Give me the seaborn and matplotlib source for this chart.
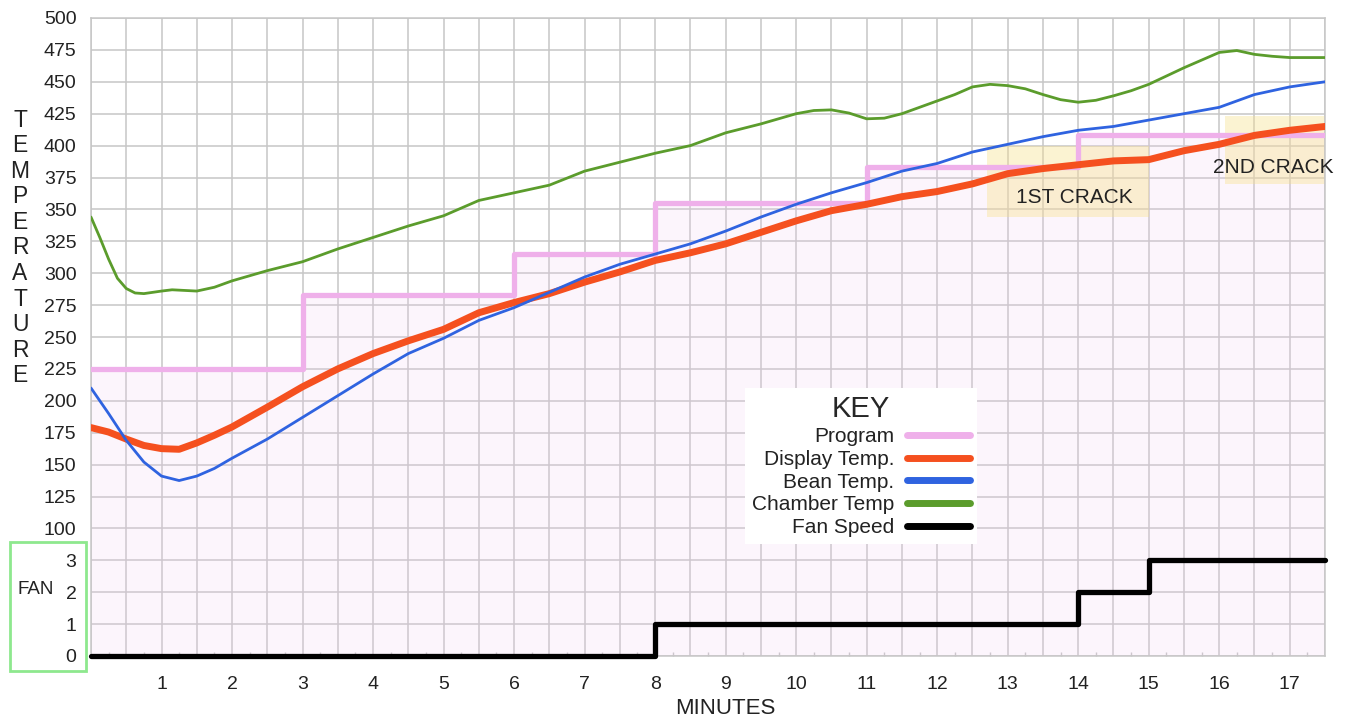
import matplotlib
matplotlib.use("Agg")
import matplotlib.pyplot as plt
from matplotlib.patches import Rectangle
from matplotlib.ticker import FixedLocator
import numpy as np
import seaborn as sns

# ─────────────────────────────────────────────
# DATA (read off the roast log)
# ─────────────────────────────────────────────

PROGRAM_MIN = [0, 3, 6, 8, 11, 14, 17.5]
PROGRAM_TEMP = [225, 283, 315, 355, 383, 408, 408]

DISPLAY_MIN = [0, 0.25, 0.5, 0.75, 1.0, 1.25, 1.5, 1.75, 2.0, 2.5, 3.0, 3.5,
               4.0, 4.5, 5.0, 5.5, 6.0, 6.5, 7.0, 7.5, 8.0, 8.5, 9.0, 9.5,
               10.0, 10.5, 11.0, 11.5, 12.0, 12.5, 13.0, 13.5, 14.0, 14.5,
               15.0, 15.5, 16.0, 16.5, 17.0, 17.5]
DISPLAY_TEMP = [179, 175.5, 170, 165, 162.5, 162, 167, 173, 179.5, 195, 211, 225,
                237, 247, 256, 269, 277, 284, 293, 301, 310, 316, 323, 332,
                341, 349, 354, 360, 364, 370, 378, 382, 385, 388,
                389, 396, 401, 408, 412, 415]

BEAN_MIN = [0, 0.25, 0.5, 0.75, 1.0, 1.25, 1.5, 1.75, 2.0, 2.5, 3.0, 3.5, 4.0,
            4.5, 5.0, 5.5, 6.0, 6.5, 7.0, 7.5, 8.0, 8.5, 9.0, 9.5, 10.0, 10.5,
            11.0, 11.5, 12.0, 12.5, 13.0, 13.5, 14.0, 14.5, 15.0, 15.5, 16.0,
            16.5, 17.0, 17.5]
BEAN_TEMP = [210, 190, 169, 152, 141, 137.5, 141, 147, 155, 170, 187, 204, 221,
             237, 249, 263, 273, 285, 297, 307, 315, 323, 333, 344, 354, 363,
             371, 380, 386, 395, 401, 407, 412, 415, 420, 425, 430,
             440, 446, 450]

CHAMBER_MIN = [0, 0.125, 0.25, 0.375, 0.5, 0.625, 0.75, 1.0, 1.15, 1.5, 1.75,
               2.0, 2.5, 3.0, 3.5, 4.0, 4.5, 5.0, 5.5, 6.0, 6.5, 7.0, 7.5, 8.0,
               8.5, 9.0, 9.5, 10.0, 10.25, 10.5, 10.75, 11.0, 11.25, 11.5,
               12.0, 12.25, 12.5, 12.75, 13.0, 13.25, 13.5, 13.75, 14.0, 14.25,
               14.5, 14.75, 15.0, 15.5, 15.75, 16.0, 16.25, 16.5, 16.75, 17.0,
               17.5]
CHAMBER_TEMP = [344, 328, 311, 296, 288, 284.5, 284, 286, 287, 286, 289,
                294, 302, 309, 319, 328, 337, 345, 357, 363, 369, 380, 387, 394,
                400, 410, 417, 425, 427.5, 428, 425.5, 421, 421.5, 425,
                435, 440, 446, 448, 447, 444.5, 440, 436, 434, 435.5,
                439, 443, 448, 461, 467, 473, 474.5, 471.5, 470, 469,
                469]

FAN_MIN = [0, 8, 14, 15, 17.5]
FAN_LEVEL = [0, 1, 2, 3, 3]
FAN_UNIT = 25  # one fan step takes 25 degrees of the shared axis

TEMP_TICKS = list(range(100, 501, 25))
FAN_TICKS = [0, 1, 2, 3]
MINUTE_LABELS = list(range(1, 18))

CRACK_NAMES = ["1ST CRACK", "2ND CRACK"]
CRACK_START = [12.7, 16.08]
CRACK_END = [15.0, 17.5]
CRACK_LOW = [344, 370]
CRACK_HIGH = [400, 423]

SERIES_NAMES = ["Program", "Display Temp.", "Bean Temp.", "Chamber Temp", "Fan Speed"]

# ─────────────────────────────────────────────
# STYLE
# ─────────────────────────────────────────────

sns.set_style("white")
plt.rcParams["font.family"] = ["Liberation Sans", "DejaVu Sans"]

GRID = "#c6c6c6"
TXT = "#222222"
C_PROGRAM = "#efb0ea"
C_DISPLAY = "#f5501f"
C_BEAN = "#2f63e0"
C_CHAMBER = "#5b9c2c"
C_FAN = "#000000"

fig = plt.figure(figsize=(13.48, 7.22), dpi=100)
ax = fig.add_axes([91 / 1348, 66 / 722, 1234 / 1348, 638 / 722])
ax.set_xlim(0, 17.5)
ax.set_ylim(0, 500)

# grid
ax.set_axisbelow(True)
ax.grid(True, color=GRID, linewidth=1.1)
for s in ax.spines.values():
    s.set_color(GRID)
    s.set_linewidth(1.1)

# program area + line
ax.fill_between(PROGRAM_MIN, PROGRAM_TEMP, 0, step="post",
                color="#f2c8f2", alpha=0.18, linewidth=0, zorder=1)
sns.lineplot(x=PROGRAM_MIN, y=PROGRAM_TEMP, ax=ax, color=C_PROGRAM,
             linewidth=3.8, drawstyle="steps-post", label=SERIES_NAMES[0],
             zorder=3)

# crack zones
for name, x0, x1, lo, hi in zip(CRACK_NAMES, CRACK_START, CRACK_END, CRACK_LOW, CRACK_HIGH):
    ax.add_patch(Rectangle((x0, lo), x1 - x0, hi - lo, facecolor="#f7e08a",
                           alpha=0.38, edgecolor="none", zorder=2))
ax.text(13.95, 359, CRACK_NAMES[0], ha="center", va="center", fontsize=15,
        color=TXT, zorder=6)
ax.text(16.76, 383, CRACK_NAMES[1], ha="center", va="center", fontsize=15,
        color=TXT, zorder=6, clip_on=False)

sns.lineplot(x=DISPLAY_MIN, y=DISPLAY_TEMP, ax=ax, color=C_DISPLAY,
             linewidth=5, label=SERIES_NAMES[1], zorder=4)
sns.lineplot(x=BEAN_MIN, y=BEAN_TEMP, ax=ax, color=C_BEAN,
             linewidth=2, label=SERIES_NAMES[2], zorder=4)
sns.lineplot(x=CHAMBER_MIN, y=CHAMBER_TEMP, ax=ax, color=C_CHAMBER,
             linewidth=2, label=SERIES_NAMES[3], zorder=4)

fan_y = [lvl * FAN_UNIT for lvl in FAN_LEVEL]
sns.lineplot(x=FAN_MIN, y=fan_y, ax=ax, color=C_FAN, linewidth=3.8,
             drawstyle="steps-post", label=SERIES_NAMES[4], zorder=5)
ax.lines[-1].set_clip_on(False)

# ticks
xt = np.arange(0, 17.51, 0.5)
ax.set_xticks(xt)
ax.set_xticklabels([str(int(v)) if (v in MINUTE_LABELS) else "" for v in xt])
ax.xaxis.set_minor_locator(FixedLocator(np.arange(0.25, 17.5, 0.5)))
ax.tick_params(axis="x", which="major", direction="out", length=6.5, width=1.1,
               color=GRID, pad=8, labelsize=14, labelcolor=TXT)
ax.tick_params(axis="x", which="minor", direction="in", length=3, width=1,
               color=GRID, bottom=True)

yt = [f * FAN_UNIT for f in FAN_TICKS] + TEMP_TICKS
ax.set_yticks(yt)
ax.set_yticklabels([str(f) for f in FAN_TICKS] + [str(t) for t in TEMP_TICKS])
ax.tick_params(axis="y", direction="out", length=6.5, width=1.1, color=GRID,
               pad=4, labelsize=14, labelcolor=TXT)
ax.set_xlabel("")
ax.set_ylabel("")

# legend ("KEY")
handles, labels = ax.get_legend_handles_labels()
leg = ax.legend(handles, labels, title="KEY", title_fontsize=21, fontsize=15,
                markerfirst=False, loc="upper left", bbox_to_anchor=(0.530, 0.420),
                borderaxespad=0, handlelength=3.0, handletextpad=0.6,
                labelspacing=0.18, borderpad=0.35, frameon=True, fancybox=False,
                framealpha=1, facecolor="white", edgecolor="none")
leg.set_zorder(7)
for t in leg.get_texts():
    t.set_color(TXT)
for ln in leg.get_lines():
    ln.set_linewidth(5)

# axis titles
fig.text(20 / 1348, 1 - 248 / 722, "\n".join("TEMPERATURE"), ha="center",
         va="center", fontsize=16.5, linespacing=1.14, color=TXT)
fig.text(725 / 1348, 1 - 709 / 722, "MINUTES", ha="center", va="center",
         fontsize=16, color=TXT)
fig.text(36 / 1348, 1 - 589 / 722, "FAN", ha="center", va="center",
         fontsize=13.5, color=TXT)
fig.patches.append(Rectangle((10 / 1348, 1 - 671 / 722), 76 / 1348, 129 / 722,
                             transform=fig.transFigure, fill=False,
                             edgecolor="#8ee88e", linewidth=2))

fig.savefig("out.png", dpi=100, facecolor="white")
